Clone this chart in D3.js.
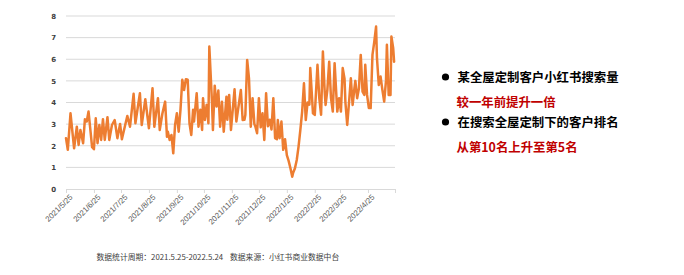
<!DOCTYPE html>
<html>
<head>
<meta charset="utf-8">
<script src="https://cdn.jsdelivr.net/npm/d3@7"></script>
<style>
  body { margin: 0; background: #fff; }
  svg { display: block; }
</style>
</head>
<body>
<div id="chart"></div>
<script>
// day offsets from 2021/5/25 and the search index
const startDate = new Date(2021, 4, 25);
const days = [
  0, 2, 5, 9, 12, 14, 16, 19, 21, 23, 25, 29, 31, 33, 35, 37, 39, 41, 43, 46,
  48, 51, 54, 57, 60, 62, 68, 71, 75, 77, 82, 84, 88, 92, 96, 98, 102, 104, 107, 110,
  112, 113, 115, 117, 119, 121, 123, 125, 127, 129, 131, 133, 135, 137, 139, 141, 142, 145, 147, 149,
  151, 152, 154, 156, 158, 159, 162, 163, 165, 167, 169, 171, 173, 175, 178, 179, 181, 183, 187, 189,
  194, 196, 198, 199, 201, 203, 205, 207, 209, 210, 212, 214, 216, 218, 220, 222, 224, 226, 228, 230,
  232, 234, 235, 237, 239, 241, 243, 245, 247, 249, 251, 252, 254, 256, 258, 260, 262, 264, 266, 268,
  270, 271, 274, 276, 279, 281, 283, 285, 287, 288, 290, 292, 294, 296, 298, 300, 301, 303, 305, 307,
  309, 310, 312, 314, 316, 318, 320, 321, 323, 325, 327, 329, 331, 332, 334, 336, 338, 340, 342, 344,
  345, 347, 349, 351, 353, 355, 356, 358, 360, 361, 363, 364
];
const values = [
  2.35, 1.81, 3.50, 1.88, 2.88, 2.04, 2.73, 2.12, 3.23, 3.12, 3.58, 1.93, 1.84, 3.27, 2.12, 2.96, 2.27, 3.23, 2.27, 3.32,
  2.27, 2.96, 3.19, 2.35, 3.01, 2.30, 3.38, 2.88, 4.40, 3.04, 4.43, 2.96, 4.15, 2.81, 4.66, 2.88, 4.20, 2.73, 3.50, 4.04,
  2.42, 2.65, 2.27, 2.50, 1.65, 2.96, 3.50, 2.65, 3.66, 5.05, 4.58, 5.08, 5.05, 3.04, 2.50, 3.66, 3.12, 4.43, 2.88, 3.66,
  2.73, 4.20, 3.19, 3.89, 3.04, 6.59, 3.97, 2.73, 4.78, 3.81, 4.55, 2.88, 4.04, 2.65, 4.27, 3.20, 4.35, 2.73, 4.61, 3.12,
  4.58, 3.19, 3.20, 3.43, 5.97, 5.12, 2.88, 4.20, 3.00, 2.90, 2.58, 4.20, 2.85, 3.50, 2.27, 4.43, 2.90, 3.20, 2.75, 4.20,
  2.35, 2.30, 3.19, 2.35, 3.12, 1.81, 2.30, 1.57, 1.30, 0.96, 0.57, 0.75, 0.96, 1.34, 1.96, 2.73, 3.58, 4.89, 3.19, 4.00,
  3.90, 5.59, 3.50, 3.43, 5.74, 4.20, 3.43, 6.36, 4.50, 3.89, 4.60, 5.89, 4.20, 3.58, 5.82, 4.30, 3.58, 4.20, 3.58, 5.59,
  5.10, 4.00, 2.96, 4.00, 5.12, 3.89, 4.66, 5.00, 4.20, 4.66, 6.20, 4.50, 4.35, 5.74, 4.35, 3.74, 3.74, 6.20, 6.80, 7.51,
  6.05, 4.81, 5.20, 4.58, 4.04, 5.00, 6.67, 4.35, 4.35, 7.05, 6.51, 5.89
];
const yTicks = [0, 1, 2, 3, 4, 5, 6, 7, 8];
const monthCount = 12;

const bulletLines = ['某全屋定制客户小红书搜索量', '在搜索全屋定制下的客户排名'];
const highlightLines = ['较一年前提升一倍', '从第10名上升至第5名'];
const footnote = '数据统计周期：2021.5.25-2022.5.24    数据来源：小红书商业数据中台';

const width = 684, height = 275;
const orange = '#ED7D31';
const grid = '#d9d9d9';

const data = days.map((d, i) => ({ date: d3.timeDay.offset(startDate, d), value: values[i] }));

const svg = d3.select('#chart')
  .append('svg')
  .attr('width', width)
  .attr('height', height);

const xScale = d3.scaleTime()
  .domain([startDate, d3.timeMonth.offset(startDate, monthCount)])
  .range([66, 395]);

const yScale = d3.scaleLinear()
  .domain([0, 8])
  .range([189, 16]);

// horizontal gridlines
svg.append('g')
  .selectAll('line')
  .data(yTicks.slice(1))
  .enter()
  .append('line')
  .attr('x1', xScale.range()[0])
  .attr('x2', xScale.range()[1])
  .attr('y1', d => yScale(d))
  .attr('y2', d => yScale(d))
  .attr('stroke', grid)
  .attr('stroke-width', 1);

// y axis labels only
const yAxis = svg.append('g')
  .attr('transform', `translate(${xScale.range()[0]}, 0)`)
  .call(d3.axisLeft(yScale).tickValues(yTicks).tickSize(0).tickPadding(10));
yAxis.select('.domain').remove();
yAxis.selectAll('text')
  .style('font-family', '"DejaVu Sans", sans-serif')
  .style('font-size', '7px')
  .style('font-weight', 'bold')
  .attr('fill', '#404040');

// x axis: tick on the 25th of each month
const monthTicks = d3.range(0, monthCount + 1).map(i => d3.timeMonth.offset(startDate, i));
const xAxis = svg.append('g')
  .attr('transform', `translate(0, ${yScale(0)})`)
  .call(d3.axisBottom(xScale)
    .tickValues(monthTicks)
    .tickSize(4)
    .tickSizeOuter(0)
    .tickFormat((d, i) => i === monthCount ? '' : `${d.getFullYear()}/${d.getMonth() + 1}/${d.getDate()}`));
xAxis.select('.domain').attr('stroke', grid);
xAxis.selectAll('.tick line').attr('stroke', grid);
xAxis.selectAll('text')
  .style('font-family', '"Liberation Sans", Arial, sans-serif')
  .style('font-size', '7.8px')
  .attr('fill', '#595959')
  .attr('text-anchor', 'end')
  .attr('dx', '-0.2em')
  .attr('dy', '0.5em')
  .attr('transform', 'rotate(-45)');

// the series line
const line = d3.line()
  .x(d => xScale(d.date))
  .y(d => yScale(d.value));

svg.append('path')
  .datum(data)
  .attr('fill', 'none')
  .attr('stroke', orange)
  .attr('stroke-width', 2.5)
  .attr('stroke-linejoin', 'round')
  .attr('stroke-linecap', 'round')
  .attr('d', line);

// right-hand notes
const notes = svg.append('g')
  .style('font-family', '"Noto Sans CJK SC", sans-serif')
  .style('font-weight', 'bold')
  .style('font-size', '12.4px');

bulletLines.forEach((t, i) => {
  const y = 77 + i * 45;
  notes.append('circle')
    .attr('cx', 445.5)
    .attr('cy', y)
    .attr('r', 3.6)
    .attr('fill', '#000');
  notes.append('text')
    .attr('x', 457.5)
    .attr('y', y)
    .attr('dominant-baseline', 'central')
    .attr('fill', '#000')
    .text(t);
  notes.append('text')
    .attr('x', 456.5)
    .attr('y', y + 24.5)
    .attr('dominant-baseline', 'central')
    .attr('fill', '#C00000')
    .text(highlightLines[i]);
});

svg.append('text')
  .attr('x', 96.5)
  .attr('y', 256)
  .attr('dominant-baseline', 'central')
  .style('font-family', '"Noto Sans CJK SC", sans-serif')
  .style('font-size', '7.8px')
  .style('white-space', 'pre')
  .attr('fill', '#404040')
  .text(footnote);
</script>
</body>
</html>
